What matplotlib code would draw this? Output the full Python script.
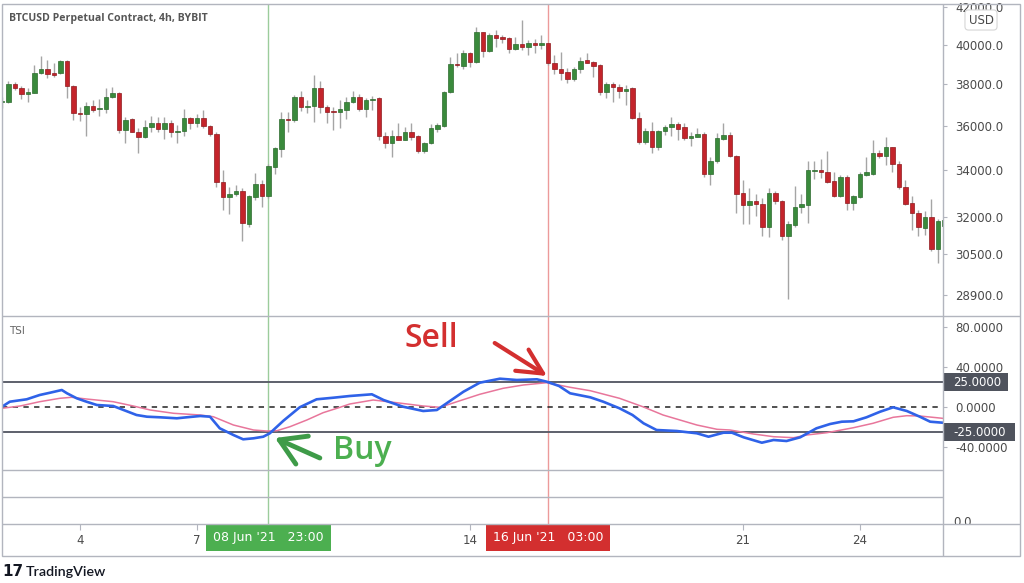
import matplotlib
matplotlib.use("Agg")
import matplotlib.pyplot as plt
import matplotlib.transforms as mtransforms
from matplotlib.patches import Rectangle
from matplotlib.ticker import NullLocator

# ------------------------------------------------------------------ data
candle_idx = list(range(-12, 134))   # 4h candles, 0 = 4 Jun 03:00
opens = [37150, 37130, 38010, 37840, 37530, 37600, 38560, 38760, 38590, 38560, 39190, 37930,
         36600, 36570, 36970, 36810, 36810, 37400, 37570, 35820, 36320, 35740, 35480, 35950,
         36130, 35850, 36160, 35730, 35790, 36370, 36130, 36370, 36010, 35630, 33490, 32810,
         32960, 33100, 31700, 32820, 33390, 32850, 34150, 34950, 36350, 36260, 37370, 36920,
         36950, 37810, 36890, 36690, 36650, 36760, 37130, 37370, 36800, 37240, 37330, 35540,
         35230, 35540, 35360, 35710, 35540, 34830, 35210, 35870, 36010, 37630, 39020, 38940,
         39570, 39140, 40670, 39690, 40520, 40440, 40350, 39780, 40040, 39910, 40120, 39980,
         40090, 39060, 38770, 38610, 38260, 38760, 39230, 39140, 38970, 37650, 38020, 37890,
         37680, 37810, 36370, 35280, 35790, 35020, 35770, 35950, 36100, 35950, 35440, 35510,
         35630, 33830, 34380, 35390, 35590, 34630, 32990, 32500, 32670, 32540, 31590, 32990,
         32670, 31210, 31660, 32420, 32500, 33960, 34010, 33910, 33520, 32850, 33690, 32590,
         32820, 33790, 33830, 34780, 34630, 35020, 34270, 33250, 32570, 32170, 31530, 31980,
         30680, 31620]
highs = [37390, 38190, 38140, 37930, 37810, 38970, 39430, 39230, 39060, 39230, 39230, 37980,
         36920, 37160, 37240, 37280, 37810, 37890, 37650, 36440, 36370, 35900, 36260, 36480,
         36440, 36440, 36260, 36050, 36800, 36440, 36570, 36760, 36050, 35730, 34010, 33250,
         33350, 33210, 32920, 33860, 33570, 34270, 35050, 36680, 36680, 37490, 37700, 37240,
         38470, 38190, 37000, 36890, 37240, 37370, 37700, 37530, 37330, 37440, 37400, 35740,
         35820, 36130, 35970, 36130, 35590, 35280, 36100, 36160, 37700, 39370, 39570, 39740,
         39650, 40960, 40700, 40610, 40790, 40520, 40440, 40440, 41320, 40260, 40300, 40520,
         40120, 39480, 39650, 38810, 38890, 39370, 39570, 39190, 39030, 38140, 38140, 38020,
         37980, 37890, 36680, 35900, 36210, 35820, 36050, 36420, 36210, 36160, 35740, 35900,
         35730, 34600, 35670, 36160, 35740, 34680, 33570, 33210, 32960, 32780, 33210, 33100,
         32710, 31800, 33310, 32960, 34380, 34420, 34480, 34870, 33930, 33790, 33790, 32920,
         33930, 34600, 35360, 34900, 35510, 35050, 34420, 33540, 32880, 32290, 32220, 32740,
         31900, 32040]
lows = [36860, 37080, 37730, 37280, 37160, 37570, 38520, 38310, 38390, 38520, 37330, 36290,
        36250, 35540, 36680, 36480, 36600, 37330, 35670, 35210, 35710, 34750, 35440, 35740,
        35740, 35390, 35480, 35210, 35540, 35850, 35950, 35900, 35540, 33250, 32290, 32120,
        32850, 30980, 31570, 32710, 32420, 32780, 33830, 34600, 35710, 36210, 36730, 36600,
        36210, 36600, 36160, 35820, 35900, 36320, 37080, 36730, 36440, 36760, 35330, 34980,
        34570, 35330, 35330, 35360, 34780, 34750, 35170, 35710, 35970, 37600, 38890, 38760,
        38890, 39060, 39370, 39650, 39910, 40090, 39570, 39740, 39740, 39480, 39570, 39780,
        38970, 38520, 38220, 38060, 38190, 38590, 39060, 38390, 37490, 37330, 37160, 37330,
        37000, 36320, 35170, 35170, 34780, 34900, 35590, 35540, 35360, 35330, 35080, 35480,
        33690, 33350, 34330, 35360, 34600, 32170, 31700, 31700, 32010, 31210, 31160, 32540,
        31050, 28750, 31590, 32150, 31730, 33600, 33640, 33430, 32820, 32820, 32260, 32260,
        32780, 33740, 33790, 34530, 34230, 33930, 33170, 32500, 31460, 31210, 31260, 30580,
        30130, 31380]
closes = [37190, 38010, 37840, 37530, 37630, 38590, 38760, 38510, 38490, 39190, 37930, 36600,
          36570, 36950, 36760, 36840, 37400, 37600, 35820, 36290, 35740, 35480, 35970, 36130,
          35850, 36160, 35710, 35770, 36370, 36130, 36370, 36010, 35630, 33490, 32820, 32960,
          33100, 31730, 32850, 33390, 32850, 34180, 34980, 36340, 36260, 37370, 36920, 36950,
          37810, 36890, 36650, 36650, 36800, 37160, 37370, 36800, 37240, 37290, 35540, 35230,
          35540, 35360, 35710, 35510, 34830, 35230, 35900, 36050, 37650, 39020, 38960, 39570,
          39140, 40670, 39690, 40520, 40380, 40330, 39790, 40040, 39910, 40120, 39980, 40120,
          39060, 38760, 38590, 38260, 38770, 39190, 39090, 38920, 37650, 38020, 37860, 37680,
          37790, 36370, 35280, 35790, 35020, 35790, 35950, 36100, 35880, 35440, 35540, 35630,
          33830, 34380, 35440, 35590, 34630, 32960, 32500, 32670, 32540, 31590, 32990, 32640,
          31210, 31700, 32420, 32530, 33980, 34010, 33890, 33490, 32850, 33690, 32590, 32850,
          33830, 33890, 34780, 34630, 35020, 34270, 33250, 32540, 32170, 31570, 31980, 30680,
          31800, 31870]

price_ticks = [42000, 40000, 38000, 36000, 34000, 32000, 30500, 28900]

tsi_idx = [-12, -10.8, -8.2, -6.2, -4.6, -2.8, -2, -0.5, 1, 2.6, 5.1, 6.7, 8.7, 10.3, 12.3,
           14.9, 16.4, 18.5, 20, 21.5, 23.6, 25.1, 26.7, 28.2, 29.2, 31.3, 33.8, 36.4, 39,
           41.5, 44.9, 46.7, 49.7, 52.8, 54.9, 56.4, 59, 61.5, 64.6, 67.2, 70.3, 71.8, 73.7,
           75.4, 78.5, 80.5, 83, 85, 86.7, 88.7, 91.8, 94.9, 96.7, 99, 100.3, 102.1, 104.9,
           106.7, 108.7, 110.8, 113.3, 115.4, 117.2, 119, 121, 123.1, 125.1, 127.2, 129.2,
           130.8, 132.7]
tsi_vals = [0.3, 5.3, 7.7, 12, 14.3, 17, 13.7, 8.7, 5.3, 2, 1, -3, -8, -9.7, -10.3,
            -11.3, -10.3, -9, -9.7, -21.3, -28, -32.3, -31.3, -29.7, -26.3, -13.7, -0.3, 7.7, 9.3,
            11, 12.7, 7, 0.3, -4, -3, 3.7, 15.3, 24.3, 28.3, 27, 27.7, 25.3, 21,
            13.7, 9.7, 5.3, -1.3, -8, -16.3, -23, -24, -26.3, -29.7, -25.7, -25.7, -30.3, -35.7,
            -33, -34, -30.3, -21.3, -17, -14.7, -14.3, -10.3, -4.7, -0.3, -4, -9.7,
            -14.7, -15.7]

signal_idx = [-12, -9.2, -6.2, -3.1, -1.3, 1, 5.1, 8.2, 10.8, 14.4, 18.5, 20.5, 23.6, 26.7,
              28.7, 30.3, 32.3, 34.9, 37.4, 40, 41.5, 45.1, 48.7, 52.8, 55.4, 58, 61.5, 65.1,
              68.2, 71.8, 75.4, 78.5, 83, 86.7, 89.7, 92.3, 94.9, 98, 100, 103.6, 106.7, 109.8,
              111.8, 114.9, 119, 122, 125.1, 127.2, 129.2, 132.7]
signal_vals = [-1.3, 1, 5.3, 8.7, 9.7, 8, 5.3, 1, -3, -6.3, -8, -9.7, -18, -23,
               -24, -23.7, -19.7, -13, -5.7, -0.3, 3, 7, 4.3, 1, -0.3, 5.3, 12.7, 18.7,
               22, 24.3, 19.7, 16.3, 8.7, 0, -8, -13, -18, -22.3, -23, -27, -29.7, -30.7,
               -28, -25.7, -20.7, -16.3, -10.3, -8.7, -9, -11.3]

tsi_ticks = [80, 40, 0, -40]
tsi_levels = [25, -25]

day_tick_idx = [0, 18, 60, 102, 120]
day_tick_labels = ['4', '7', '14', '21', '24']

buy_idx, buy_label = 29, "08 Jun '21   23:00"
sell_idx, sell_label = 72, "16 Jun '21   03:00"

# ------------------------------------------------------------------ figure
W, H = 1024, 583
fig = plt.figure(figsize=(W / 100, H / 100), dpi=100)
fig.patch.set_facecolor('white')


def rect(x0, y0, x1, y1):
    return [x0 / W, 1 - y1 / H, (x1 - x0) / W, (y1 - y0) / H]


XL, XR = -12, 132.77
frame_c = '#b2b5be'
text_c = '#4a4a4a'
green_c, green_e = '#3a8a3c', '#2c6a2e'
red_c, red_e = '#c4242b', '#8e1a1f'
buy_c, sell_c = '#4caf50', '#d32f2f'

ax_p = fig.add_axes(rect(2, 4, 943, 316))
ax_t = fig.add_axes(rect(2, 316, 943, 470))
ax_e = fig.add_axes(rect(2, 470, 943, 524))
ax_x = fig.add_axes(rect(2, 524, 943, 556))
for a in (ax_p, ax_t, ax_e, ax_x):
    a.set_xlim(XL, XR)
    for s in a.spines.values():
        s.set_visible(False)
    a.patch.set_visible(False)
    a.set_xticks([])
ax_e.set_yticks([])

# ---- price pane
ax_p.set_yscale('log')
ax_p.set_ylim(28119, 42191)
ax_p.set_yticks(price_ticks, labels=[f'{v:.1f}' for v in price_ticks])
ax_p.yaxis.set_minor_locator(NullLocator())
ax_p.yaxis.tick_right()
ax_p.tick_params(axis='y', direction='out', length=3, width=0.8, color=frame_c,
                 labelsize=8.5, labelcolor=text_c, pad=6)

ax_p.vlines(candle_idx, lows, highs, color='#a5a5a5', lw=1, zorder=1)
bottoms = [min(o, c) for o, c in zip(opens, closes)]
heights = [max(abs(c - o), 25) for o, c in zip(opens, closes)]
faces = [green_c if c >= o else red_c for o, c in zip(opens, closes)]
edges = [green_e if c >= o else red_e for o, c in zip(opens, closes)]
ax_p.bar(candle_idx, heights, bottom=bottoms, width=0.62, color=faces,
         edgecolor=edges, linewidth=0.5, zorder=2)

# ---- TSI pane
ax_t.set_ylim(-63, 91)
ax_t.set_yticks(tsi_ticks, labels=[f'{v:.4f}' for v in tsi_ticks])
ax_t.yaxis.tick_right()
ax_t.tick_params(axis='y', direction='out', length=3, width=0.8, color=frame_c,
                 labelsize=8.5, labelcolor=text_c, pad=6)
for lv in tsi_levels:
    ax_t.axhline(lv, color='#5d606b', lw=1.4, zorder=1)
ax_t.axhline(0, color='#222222', lw=1.1, ls=(0, (3.5, 3.5)), zorder=1)
ax_t.plot(signal_idx, signal_vals, color='#e8769b', lw=1.1, zorder=3)
ax_t.plot(tsi_idx, tsi_vals, color='#2f62e8', lw=1.9, zorder=4)

btr = mtransforms.blended_transform_factory(ax_t.transAxes, ax_t.transData)
for lv, w in zip(tsi_levels, [0.069, 0.0765]):
    ax_t.add_patch(Rectangle((1.0, lv - 9.0), w, 18.0, transform=btr, fc='#4f535d',
                             ec='none', clip_on=False, zorder=6))
    ax_t.text(1.0106, lv, f'{lv:.4f}', transform=btr, ha='left', va='center',
              color='white', fontsize=8.5, clip_on=False, zorder=7)

# buy / sell vertical markers
for a in (ax_p, ax_t, ax_e):
    a.axvline(buy_idx, color='#9ccc9c', lw=1, zorder=0)
    a.axvline(sell_idx, color='#ec9a9a', lw=1, zorder=0)

# annotations
ann_font = dict(family=['Open Sans', 'DejaVu Sans'], weight='semibold', fontsize=23)
ax_t.text(50, 60, 'Sell', color=sell_c, ha='left', va='baseline', **ann_font)
ax_t.text(38.9, -52, 'Buy', color=buy_c, ha='left', va='baseline', **ann_font)
ax_t.annotate('', xy=(71.85, 31), xytext=(63.8, 64),
              arrowprops=dict(arrowstyle='->,head_length=0.9,head_width=0.45',
                              color=sell_c, lw=3, mutation_scale=20,
                              shrinkA=0, shrinkB=0))
ax_t.annotate('', xy=(30, -31), xytext=(36.9, -51),
              arrowprops=dict(arrowstyle='->,head_length=0.9,head_width=0.55',
                              color='#3e9b48', lw=3.5, mutation_scale=20,
                              shrinkA=0, shrinkB=0))

# ---- time axis
ax_x.set_ylim(0, 1)
ax_x.set_yticks([])
ax_x.set_xticks(day_tick_idx)
ax_x.tick_params(axis='x', top=True, bottom=False, labelbottom=False, labeltop=False,
                 direction='in', length=4, width=0.8, color=frame_c)
xtr = ax_x.get_xaxis_transform()
for i, lab in zip(day_tick_idx, day_tick_labels):
    ax_x.text(i, 0.5, lab, transform=xtr, ha='center', va='center',
              fontsize=8.5, color=text_c)
ax_x.text(buy_idx, 0.58, buy_label, transform=xtr, ha='center', va='center',
          fontsize=9, color='white', zorder=5,
          bbox=dict(boxstyle='square,pad=0.55', fc=buy_c, ec='none'))
ax_x.text(sell_idx, 0.58, sell_label, transform=xtr, ha='center', va='center',
          fontsize=9, color='white', zorder=5,
          bbox=dict(boxstyle='square,pad=0.55', fc=sell_c, ec='none'))

# small clipped "0.0" scale label of the lowest pane
ax_s = fig.add_axes(rect(943, 497, 1020, 524))
ax_s.axis('off')
t0 = ax_s.text(0.13, 0.07, '0.0', transform=ax_s.transAxes, ha='left', va='center',
               fontsize=8.5, color=text_c)
t0.set_clip_path(ax_s.patch)
t0.set_clip_on(True)

# ---- overlay: frame, separators, titles
ax_o = fig.add_axes([0, 0, 1, 1])
ax_o.set_xlim(0, W)
ax_o.set_ylim(H, 0)
ax_o.axis('off')
ax_o.patch.set_visible(False)
ax_o.add_patch(Rectangle((2, 4), 1018, 552, fill=False, ec=frame_c, lw=1))
ax_o.vlines(943, 4, 556, color=frame_c, lw=1)
ax_o.hlines([316, 524], 2, 1020, color=frame_c, lw=1)
ax_o.hlines([470, 497], 2, 943, color=frame_c, lw=1)

ax_o.text(9, 19, 'BTCUSD Perpetual Contract, 4h, BYBIT', ha='left', va='center',
          fontsize=7.6, fontweight='bold', color='#555555',
          family=['Open Sans', 'DejaVu Sans'])
ax_o.text(9, 331, 'TSI', ha='left', va='center', fontsize=7.5, color='#666666')
ax_o.text(981, 20, 'USD', ha='center', va='center', fontsize=8.5, color=text_c,
          bbox=dict(boxstyle='round,pad=0.3,rounding_size=0.3', fc='white', ec='#d6d6d6',
                    lw=0.8))
ax_o.text(2, 572, '17', ha='left', va='center', fontsize=11, fontweight='heavy',
          color='#131722')
ax_o.text(26, 572, 'TradingView', ha='left', va='center', fontsize=10.3,
          fontweight='semibold', color='#131722', family=['Lato', 'DejaVu Sans'])

fig.savefig('out.png', dpi=100, facecolor='white')
